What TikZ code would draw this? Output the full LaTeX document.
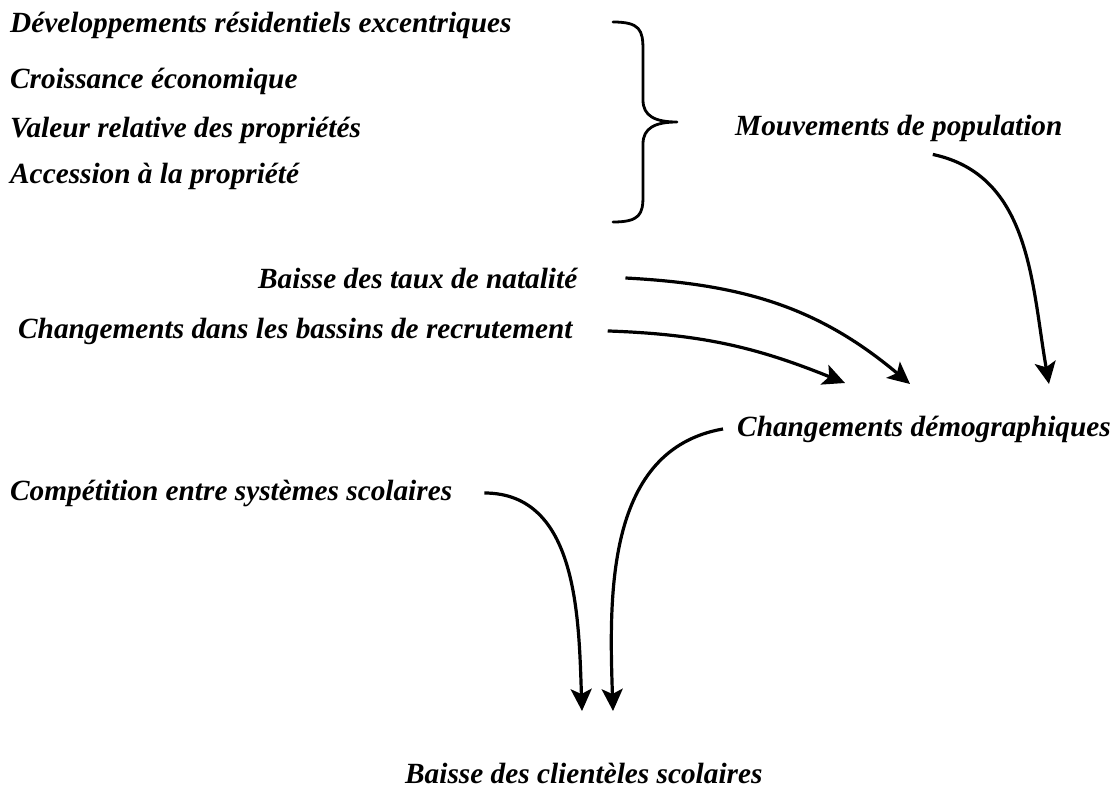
\documentclass[tikz,border=0pt]{standalone}
\usepackage{fontspec}
\setmainfont{Liberation Serif}
\usetikzlibrary{arrows.meta, positioning}
\tikzset{
  factor/.style={anchor=base west, inner sep=0pt, font=\fontsize{29.3}{34}\selectfont\bfseries\itshape},
  effect/.style={factor},
  arrow/.style={-{Stealth[length=22pt, width=21pt, inset=5pt]}, line width=3.2pt},
  brace/.style={line width=2.8pt, line cap=round, line join=round}
}
\begin{document}
\begin{tikzpicture}[x=1pt, y=1pt]
    \useasboundingbox (0,0) rectangle (1115,-793);
    % facteurs du haut
    \node[factor] (devres) at (10,-32) {Développements résidentiels excentriques};
    \node[factor] (croiss) at (10,-88) {Croissance économique};
    \node[factor] (valeur) at (10,-137) {Valeur relative des propriétés};
    \node[factor] (access) at (10,-183) {Accession à la propriété};
    \node[effect] (mouv) at (735,-135) {Mouvements de population};
    \draw[brace] (613,-22) .. controls (640,-22) and (643,-30) .. (643,-50)
        -- (643,-100) .. controls (643,-116) and (655,-122) .. (677,-122)
        .. controls (655,-122) and (643,-128) .. (643,-144)
        -- (643,-196) .. controls (643,-214) and (640,-222) .. (613,-222);
    % causes demographiques
    \node[factor] (natal) at (258,-288) {Baisse des taux de natalité};
    \node[factor] (bassin) at (18,-338) {Changements dans les bassins de recrutement};
    \node[effect] (demo) at (737,-436) {Changements démographiques};
    \node[factor] (compet) at (10,-500) {Compétition entre systèmes scolaires};
    \node[effect] (clientele) at (405,-783) {Baisse des clientèles scolaires};
    % fins de fleches
    \coordinate (endmouv) at (1049,-384);
    \coordinate (endnatal) at (910,-384);
    \coordinate (endbassin) at (845,-383);
    \coordinate (enddemoA) at (582,-711);
    \coordinate (enddemoB) at (613,-711);

    \draw[arrow] ([shift={(34,-13)}]mouv.south) to[out=-12, in=100] (endmouv);
    \draw[arrow] ([xshift=48pt]natal.east) to[out=-3, in=140] (endnatal);
    \draw[arrow] ([xshift=35pt]bassin.east) to[out=-2, in=158] (endbassin);
    \draw[arrow] ([xshift=-14pt]demo.west) to[out=190, in=92] (enddemoB);
    \draw[arrow] ([xshift=32pt]compet.east) to[out=0, in=92] (enddemoA);
\end{tikzpicture}
\end{document}
